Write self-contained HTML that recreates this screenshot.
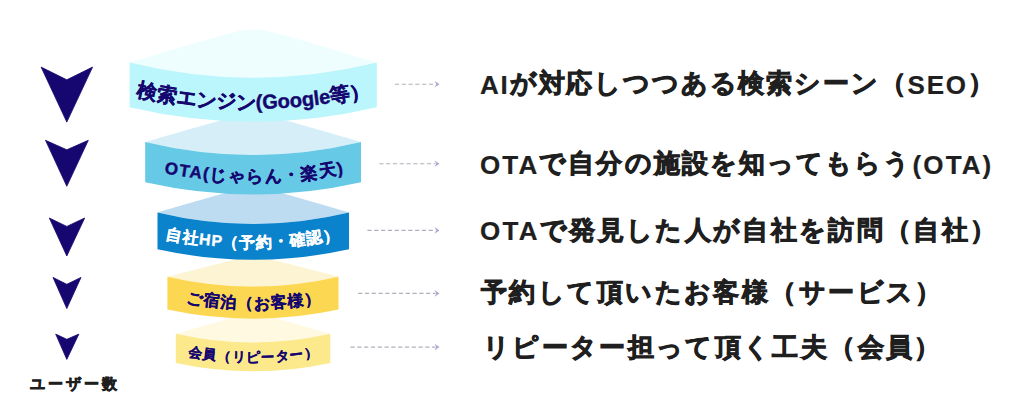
<!DOCTYPE html>
<html><head><meta charset="utf-8">
<style>
html,body{margin:0;padding:0;background:#fff;}
body{width:1024px;height:410px;position:relative;overflow:hidden;font-family:"Liberation Sans",sans-serif;}
svg{position:absolute;left:0;top:0;}
.rt{position:absolute;height:40px;line-height:40px;font-size:26px;font-weight:bold;color:#1f1f1f;white-space:nowrap;-webkit-text-stroke:0.9px #1f1f1f;}
.l{position:relative;top:1.8px;-webkit-text-stroke:0.2px #1f1f1f;}
.ul{position:absolute;left:30px;top:372px;font-size:15px;line-height:24px;font-weight:bold;color:#1f1f1f;letter-spacing:3px;white-space:nowrap;-webkit-text-stroke:0.7px #1f1f1f;}
</style></head><body>
<svg width="1024" height="410" viewBox="0 0 1024 410">
<defs><path id="tp0" d="M69.6,68.58 Q253.2,134.12 436.8,68.58"/><path id="tp1" d="M86.5,145 Q254.5,206.1 422.3,145"/><path id="tp2" d="M97,212.76 Q252.7,270.94 408.5,212.76"/><path id="tp3" d="M108.4,275.01 Q254.2,330.19 399.5,275.01"/><path id="tp4" d="M116.2,329.96 Q253.6,383.74 390.7,329.96"/></defs>
<path d="M175.8,333.84 L179.66,332.74 L183.53,331.63 L187.39,330.52 L191.25,329.42 L195.11,328.32 L198.98,327.22 L202.84,326.12 L206.7,325.02 L210.56,323.93 L214.43,322.84 L218.29,321.76 L222.15,320.68 L226.01,319.62 L229.88,318.57 L233.74,317.55 L237.6,316.56 L241.46,315.64 L245.33,314.84 L249.19,314.24 L253.05,314 L256.91,314.21 L260.77,314.78 L264.64,315.58 L268.5,316.49 L272.36,317.47 L276.23,318.49 L280.09,319.54 L283.95,320.6 L287.81,321.67 L291.68,322.76 L295.54,323.84 L299.4,324.94 L303.26,326.03 L307.12,327.13 L310.99,328.23 L314.85,329.33 L318.71,330.44 L322.58,331.54 L326.44,332.65 L330.3,333.76 Q253.2,351.2 175.8,333.8 Z" fill="#fef9e0"/><path d="M175.8,333.8 Q253.2,351.2 330.3,333.8 L330.3,362.9 Q253.2,379.5 175.8,362.9 Z" fill="#fce98c"/><path d="M167.4,276.76 L171.68,275.66 L175.96,274.56 L180.23,273.46 L184.51,272.36 L188.79,271.27 L193.06,270.17 L197.34,269.08 L201.62,267.99 L205.9,266.9 L210.18,265.82 L214.45,264.74 L218.73,263.67 L223.01,262.61 L227.29,261.57 L231.56,260.55 L235.84,259.57 L240.12,258.65 L244.39,257.85 L248.67,257.25 L252.95,257 L257.23,257.2 L261.5,257.76 L265.78,258.55 L270.06,259.46 L274.34,260.43 L278.62,261.45 L282.89,262.49 L287.17,263.55 L291.45,264.61 L295.73,265.69 L300,266.77 L304.28,267.86 L308.56,268.95 L312.84,270.04 L317.11,271.14 L321.39,272.23 L325.67,273.33 L329.95,274.43 L334.22,275.53 L338.5,276.64 Q253.2,296.3 167.4,276.7 Z" fill="#fdf4d4"/><path d="M167.4,276.7 Q253.2,296.3 338.5,276.7 L338.5,309.5 Q253.2,327.9 167.4,309.5 Z" fill="#fcd852"/><path d="M157.5,212.39 L162.29,210.99 L167.07,209.6 L171.86,208.21 L176.65,206.82 L181.44,205.44 L186.22,204.05 L191.01,202.67 L195.8,201.29 L200.59,199.92 L205.38,198.55 L210.16,197.19 L214.95,195.84 L219.74,194.5 L224.53,193.19 L229.31,191.9 L234.1,190.67 L238.89,189.51 L243.68,188.51 L248.46,187.78 L253.25,187.5 L258.04,187.79 L262.82,188.53 L267.61,189.53 L272.4,190.69 L277.19,191.93 L281.98,193.21 L286.76,194.53 L291.55,195.87 L296.34,197.22 L301.12,198.58 L305.91,199.95 L310.7,201.32 L315.49,202.7 L320.27,204.08 L325.06,205.46 L329.85,206.85 L334.64,208.24 L339.43,209.63 L344.21,211.02 L349,212.41 Q253.2,235.4 157.5,212.4 Z" fill="#bddcf1"/><path d="M157.5,212.4 Q253.2,235.4 349,212.4 L349,249.3 Q253.2,270.3 157.5,249.3 Z" fill="#0b82cc"/><path d="M145.2,142.03 L150.59,140.46 L155.99,138.9 L161.38,137.33 L166.78,135.77 L172.17,134.21 L177.57,132.66 L182.96,131.1 L188.36,129.55 L193.75,128.01 L199.15,126.47 L204.54,124.94 L209.94,123.42 L215.33,121.92 L220.73,120.44 L226.12,118.99 L231.52,117.6 L236.91,116.3 L242.31,115.16 L247.7,114.33 L253.1,114 L258.5,114.3 L263.89,115.12 L269.28,116.25 L274.68,117.55 L280.07,118.94 L285.47,120.38 L290.87,121.86 L296.26,123.36 L301.65,124.88 L307.05,126.41 L312.44,127.95 L317.84,129.5 L323.24,131.05 L328.63,132.6 L334.02,134.16 L339.42,135.71 L344.81,137.28 L350.21,138.84 L355.61,140.4 L361,141.97 Q253.2,168 145.2,142 Z" fill="#d6eef8"/><path d="M145.2,142 Q253.2,168 361,142 L361,182.3 Q253.2,206.7 145.2,182.3 Z" fill="#66c9e5"/><path d="M129.6,62.6 L135.78,60.74 L141.96,58.89 L148.14,57.03 L154.32,55.18 L160.5,53.33 L166.68,51.49 L172.86,49.64 L179.04,47.81 L185.22,45.98 L191.4,44.15 L197.58,42.34 L203.76,40.54 L209.94,38.76 L216.12,37 L222.3,35.29 L228.48,33.64 L234.66,32.1 L240.84,30.75 L247.02,29.77 L253.2,29.4 L259.38,29.77 L265.56,30.75 L271.74,32.1 L277.92,33.64 L284.1,35.29 L290.28,37 L296.46,38.76 L302.64,40.54 L308.82,42.34 L315,44.15 L321.18,45.98 L327.36,47.81 L333.54,49.64 L339.72,51.49 L345.9,53.33 L352.08,55.18 L358.26,57.03 L364.44,58.89 L370.62,60.74 L376.8,62.6 Q253.2,93 129.6,62.6 Z" fill="#eefefe"/><path d="M129.6,62.6 Q253.2,93 376.8,62.6 L376.8,107.2 Q253.2,136.2 129.6,107.2 Z" fill="#baf6fb"/>
<g font-family="Liberation Sans, sans-serif" font-weight="bold"><text font-size="20" fill="#15076f" stroke="#15076f" stroke-width="0.45" letter-spacing="-0.16" dy="7.4"><textPath href="#tp0" startOffset="50%" text-anchor="middle">検索エンジン(Google等）</textPath></text><text font-size="17" fill="#15076f" stroke="#15076f" stroke-width="0.4" letter-spacing="1.2" dy="6.29"><textPath href="#tp1" startOffset="50%" text-anchor="middle">OTA(じゃらん・楽天)</textPath></text><text font-size="16" fill="#ffffff" stroke="#ffffff" stroke-width="0.3" letter-spacing="0.73" dy="5.92"><textPath href="#tp2" startOffset="50%" text-anchor="middle">自社HP（予約・確認）</textPath></text><text font-size="16" fill="#15076f" stroke="#15076f" stroke-width="0.3" letter-spacing="0.84" dy="5.92"><textPath href="#tp3" startOffset="50%" text-anchor="middle">ご宿泊（お客様）</textPath></text><text font-size="13.5" fill="#15076f" stroke="#15076f" stroke-width="0.25" letter-spacing="0.5" dy="5"><textPath href="#tp4" startOffset="50%" text-anchor="middle">会員（リピーター）</textPath></text></g>
<g fill="#15076f" stroke="#15076f" stroke-width="0.8" stroke-linejoin="round"><path d="M41.1,67.1 L66.8,79.8 L92.6,67.1 L66.8,122.1 Z"/><path d="M45.5,140.3 L66.8,149.8 L88.3,140.3 L66.8,186.3 Z"/><path d="M49.3,218.0 L66.8,226.4 L84.7,218.0 L66.8,256.0 Z"/><path d="M53.0,277.4 L66.8,284.3 L81.0,277.4 L66.8,308.6 Z"/><path d="M55.7,334.1 L66.8,339.3 L78.9,334.1 L66.8,359.4 Z"/></g>
<line x1="394.9" y1="84.3" x2="435.5" y2="84.3" stroke="#b1b0bc" stroke-width="1.1" stroke-dasharray="4.2 2.6"/><path d="M434.5,81 L439.5,84.3 L434.5,87.6 L436.3,84.3 Z" fill="#aca8cf"/><line x1="379.3" y1="163.75" x2="435.5" y2="163.75" stroke="#b1b0bc" stroke-width="1.1" stroke-dasharray="4.2 2.6"/><path d="M434.5,160.45 L439.5,163.75 L434.5,167.05 L436.3,163.75 Z" fill="#aca8cf"/><line x1="367.4" y1="230.4" x2="435.5" y2="230.4" stroke="#b1b0bc" stroke-width="1.1" stroke-dasharray="4.2 2.6"/><path d="M434.5,227.1 L439.5,230.4 L434.5,233.7 L436.3,230.4 Z" fill="#aca8cf"/><line x1="358.1" y1="293.4" x2="435.5" y2="293.4" stroke="#b1b0bc" stroke-width="1.1" stroke-dasharray="4.2 2.6"/><path d="M434.5,290.1 L439.5,293.4 L434.5,296.7 L436.3,293.4 Z" fill="#aca8cf"/><line x1="350.5" y1="347.1" x2="435.5" y2="347.1" stroke="#b1b0bc" stroke-width="1.1" stroke-dasharray="4.2 2.6"/><path d="M434.5,343.8 L439.5,347.1 L434.5,350.4 L436.3,347.1 Z" fill="#aca8cf"/>
</svg>
<div class="rt" style="top:62.9px;left:480px;letter-spacing:1.84px"><span class="l">AI</span>が対応しつつある検索シーン（<span class="l">SEO</span>）</div><div class="rt" style="top:142.9px;left:480px;letter-spacing:2.1px"><span class="l">OTA</span>で自分の施設を知ってもらう<span class="l">(OTA)</span></div><div class="rt" style="top:209.5px;left:480px;letter-spacing:2.33px"><span class="l">OTA</span>で発見した人が自社を訪問（自社）</div><div class="rt" style="top:272.3px;left:481px;letter-spacing:2.43px">予約して頂いたお客様（サービス）</div><div class="rt" style="top:327.3px;left:483px;letter-spacing:2.35px">リピーター担って頂く工夫（会員）</div>
<div class="ul">ユーザー数</div>
</body></html>
